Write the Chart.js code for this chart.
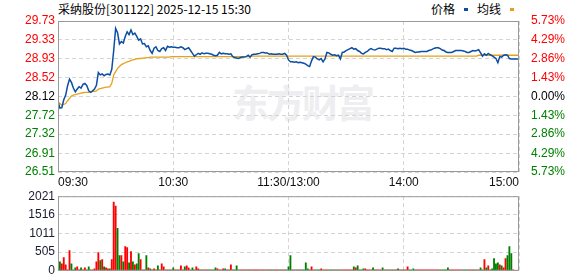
<!DOCTYPE html>
<html>
<head>
<meta charset="utf-8">
<script src="https://cdn.jsdelivr.net/npm/chart.js@4.4.1/dist/chart.umd.min.js"></script>
<style>
    body { margin: 0; background: #fff; }
    #wrap { position: relative; width: 578px; height: 276px; overflow: hidden; font-family: "Noto Sans CJK SC", sans-serif; }
    #title { position: absolute; left: 58px; top: 1px; font-size: 12px; line-height: 16px; color: #000; white-space: nowrap; }
    #legend { position: absolute; left: 431px; top: 1px; font-size: 12px; line-height: 16px; color: #000; white-space: nowrap; }
    #legend i { display: inline-block; width: 4px; height: 3px; margin: 0 9px 3px 9px; vertical-align: middle; }
    #mark { position: absolute; left: 232px; top: 73px; font-size: 38px; font-weight: bold; color: #eeeef1; letter-spacing: -3px; white-space: nowrap; z-index: 0; }
    canvas { position: absolute; left: 0; z-index: 1; }
    #priceChart { top: 0; }
    #volChart { top: 186px; }
</style>
</head>
<body>
<div id="wrap">
    <div id="mark">东方财富</div>
    <div id="title">采纳股份[301122] 2025-12-15 15:30</div>
    <div id="legend">价格<i style="background:#0b4ea2"></i>均线<i style="background:#e3a21c"></i></div>
    <canvas id="priceChart" width="578" height="190"></canvas>
    <canvas id="volChart" width="578" height="95"></canvas>
</div>
<script>
// Data (one value per minute, 09:30 -> 15:00)
const preClose = 28.12;

const timeTickVals = [0, 60, 120, 180, 240];
const timeLabels = ['09:30', '10:30', '11:30/13:00', '14:00', '15:00'];

const priceTicks = [26.51, 26.91, 27.32, 27.72, 28.12, 28.52, 28.93, 29.33, 29.73];
const pctTicks = ['5.73%', '4.29%', '2.86%', '1.43%', '0.00%', '1.43%', '2.86%', '4.29%', '5.73%'];
const volTicks = [0, 505, 1011, 1516, 2021];

const prices = [
    28.01, 27.87, 27.88, 28.05, 28.15, 28.35, 28.49, 28.42, 28.30, 28.22,
    28.28, 28.33, 28.30, 28.38, 28.40, 28.35, 28.24, 28.21, 28.24, 28.28,
    28.36, 28.63, 28.58, 28.60, 28.56, 28.59, 28.60, 28.58, 28.70, 29.10,
    29.57, 29.48, 29.24, 29.29, 29.26, 29.40, 29.50, 29.44, 29.54, 29.44,
    29.47, 29.40, 29.32, 29.35, 29.24, 29.25, 29.18, 29.20, 29.10, 29.04,
    29.15, 29.18, 29.10, 29.08, 29.14, 29.16, 29.10, 29.19, 29.17, 29.18,
    29.17, 29.17, 29.16, 29.16, 29.18, 29.16, 29.12, 29.14, 29.16, 29.10,
    29.04, 28.98, 29.01, 29.04, 29.02, 29.05, 29.03, 29.04, 29.04, 29.03,
    29.02, 29.00, 28.99, 29.00, 29.06, 29.03, 29.04, 29.03, 29.03, 29.02,
    29.03, 28.97, 28.95, 28.94, 28.93, 28.95, 28.96, 28.96, 28.97, 29.00,
    28.96, 29.01, 29.02, 29.02, 29.03, 29.04, 29.06, 29.06, 29.05, 29.05,
    29.02, 29.03, 29.02, 29.02, 29.02, 29.03, 29.02, 29.02, 29.04, 29.00,
    28.90, 28.86, 28.86, 28.85, 28.86, 28.84, 28.85, 28.84, 28.83, 28.81,
    28.78, 28.76, 28.88, 28.97, 28.96, 28.92, 28.90, 28.93, 28.86, 28.92,
    29.06, 29.05, 29.02, 29.00, 29.01, 28.99, 29.00, 28.92, 29.06, 29.07,
    29.10, 29.12, 29.14, 29.16, 29.13, 29.14, 29.10, 29.08, 29.04, 29.03,
    29.06, 29.08, 29.12, 29.14, 29.12, 29.11, 29.13, 29.15, 29.15, 29.14,
    29.14, 29.12, 29.13, 29.10, 29.08, 29.15, 29.15, 29.14, 29.15, 29.14,
    29.15, 29.13, 29.13, 29.11, 29.10, 29.08, 29.06, 29.07, 29.07, 29.08,
    29.08, 29.08, 29.08, 29.10, 29.11, 29.13, 29.15, 29.16, 29.16, 29.14,
    29.11, 29.10, 29.07, 29.06, 29.06, 29.06, 29.08, 29.10, 29.10, 29.10,
    29.10, 29.09, 29.08, 29.06, 29.06, 29.08, 29.10, 29.09, 29.10, 29.12,
    29.05, 28.98, 29.03, 29.00, 29.04, 29.01, 28.99, 28.96, 28.93, 28.84,
    28.97, 28.96, 29.00, 29.01, 29.00, 28.93, 28.92, 28.92, 28.92, 28.92,
    28.92
];

const avgPrices = [
    28.01, 27.97, 27.94, 27.95, 27.97, 28.03, 28.08, 28.13, 28.15, 28.16,
    28.17, 28.18, 28.19, 28.20, 28.21, 28.21, 28.21, 28.22, 28.23, 28.23,
    28.24, 28.28, 28.29, 28.30, 28.31, 28.32, 28.32, 28.33, 28.40, 28.58,
    28.65, 28.72, 28.76, 28.80, 28.82, 28.84, 28.86, 28.87, 28.89, 28.90,
    28.91, 28.92, 28.93, 28.93, 28.94, 28.94, 28.95, 28.95, 28.96, 28.96,
    28.96, 28.96, 28.96, 28.96, 28.96, 28.96, 28.96, 28.96, 28.96, 28.97,
    28.97, 28.97, 28.97, 28.97, 28.97, 28.97, 28.97, 28.97, 28.97, 28.97,
    28.97, 28.97, 28.97, 28.97, 28.97, 28.97, 28.97, 28.97, 28.97, 28.97,
    28.97, 28.97, 28.97, 28.97, 28.97, 28.97, 28.97, 28.97, 28.97, 28.97,
    28.97, 28.97, 28.97, 28.97, 28.97, 28.97, 28.97, 28.97, 28.97, 28.97,
    28.97, 28.98, 28.98, 28.98, 28.98, 28.98, 28.98, 28.98, 28.98, 28.98,
    28.98, 28.98, 28.98, 28.98, 28.98, 28.98, 28.98, 28.98, 28.98, 28.98,
    28.98, 28.98, 28.98, 28.98, 28.98, 28.98, 28.98, 28.98, 28.98, 28.98,
    28.98, 28.98, 28.98, 28.98, 28.98, 28.98, 28.98, 28.98, 28.98, 28.98,
    28.98, 28.98, 28.98, 28.98, 28.98, 28.98, 28.98, 28.98, 28.98, 28.98,
    28.98, 28.98, 28.98, 28.98, 28.98, 28.98, 28.98, 28.98, 28.98, 28.98,
    28.98, 28.98, 28.98, 28.98, 28.98, 28.98, 28.98, 28.98, 28.98, 28.98,
    28.98, 28.98, 28.98, 28.98, 28.98, 28.98, 28.98, 28.98, 28.98, 28.98,
    28.98, 28.98, 28.98, 28.98, 28.98, 28.98, 28.98, 28.98, 28.98, 28.98,
    28.98, 28.98, 28.98, 28.98, 28.98, 28.98, 28.98, 28.98, 28.98, 28.98,
    28.98, 28.98, 28.98, 28.98, 28.98, 28.98, 28.98, 28.98, 28.98, 28.98,
    28.98, 28.98, 28.98, 28.98, 28.98, 28.98, 28.98, 28.98, 28.98, 29.00,
    29.00, 29.00, 29.00, 29.00, 29.00, 29.00, 29.00, 29.00, 29.00, 29.00,
    29.00, 29.00, 29.00, 29.00, 29.00, 29.00, 29.00, 29.00, 29.00, 29.00,
    29.00
];

const volumes = [
    30, 246, 192, 356, 164, 27, 548, 192, 27, 82,
    110, 27, 82, 27, 82, 27, 110, 27, 27, 55,
    246, 493, 274, 301, 110, 82, 55, 55, 301, 1863,
    1754, 1151, 411, 411, 246, 658, 630, 219, 521, 246,
    164, 192, 466, 301, 27, 27, 411, 82, 55, 27,
    55, 27, 137, 27, 192, 110, 27, 27, 27, 27,
    82, 27, 27, 27, 137, 27, 110, 137, 82, 27,
    82, 27, 110, 55, 27, 27, 27, 27, 27, 27,
    27, 27, 82, 55, 27, 27, 55, 55, 27, 27,
    164, 27, 27, 137, 27, 27, 27, 27, 27, 27,
    27, 27, 27, 27, 27, 27, 27, 27, 27, 27,
    27, 27, 27, 27, 27, 27, 27, 27, 27, 27,
    110, 411, 27, 27, 27, 27, 27, 27, 27, 219,
    55, 27, 110, 27, 27, 27, 27, 55, 27, 27,
    27, 27, 27, 27, 27, 27, 27, 27, 27, 27,
    27, 27, 27, 27, 110, 82, 137, 27, 27, 55,
    55, 27, 27, 27, 82, 27, 27, 27, 27, 82,
    27, 27, 27, 27, 27, 27, 27, 55, 27, 27,
    27, 27, 110, 27, 27, 55, 27, 27, 27, 27,
    27, 27, 27, 27, 27, 27, 27, 27, 27, 27,
    27, 27, 27, 82, 27, 27, 27, 27, 27, 27,
    27, 27, 27, 27, 27, 27, 27, 27, 27, 27,
    82, 27, 301, 82, 137, 27, 55, 329, 192, 219,
    164, 137, 82, 329, 411, 658, 466, 27, 0, 0,
    466
];

const RED = '#ff0000';
const GREEN = '#008000';
const GRID = '#d4d4d4';
const TICK_FONT = { family: 'Arial, "Liberation Sans", sans-serif', size: 12 };

// box around the plot area
const framePlugin = {
    id: 'frame',
    afterDraw(chart) {
        const a = chart.chartArea;
        const ctx = chart.ctx;
        ctx.save();
        ctx.strokeStyle = '#999';
        ctx.lineWidth = 1;
        ctx.strokeRect(a.left + 0.5, a.top + 0.5, a.right - a.left - 1, a.bottom - a.top - 1);
        ctx.restore();
    }
};

function tickColor(ctx) {
    const v = priceTicks[ctx.index];
    if (v > preClose) return RED;
    if (v < preClose) return GREEN;
    return '#000';
}

function setTicks(vals) {
    return scale => { scale.ticks = vals.map(v => ({ value: v })); };
}

// Price chart
function initializePriceChart() {
    const ctx = document.getElementById('priceChart').getContext('2d');
    new Chart(ctx, {
        type: 'line',
        data: {
            datasets: [{
                label: '价格',
                data: prices.map((p, i) => ({ x: i, y: p })),
                borderColor: '#0b4ea2',
                borderWidth: 1.5,
                pointRadius: 0,
                tension: 0
            }, {
                label: '均线',
                data: avgPrices.map((p, i) => ({ x: i, y: p })),
                borderColor: '#e3a21c',
                borderWidth: 1.3,
                pointRadius: 0,
                tension: 0
            }]
        },
        options: {
            responsive: false,
            animation: false,
            layout: { padding: { top: 21, left: 0, right: 0, bottom: 0 } },
            plugins: { legend: { display: false }, tooltip: { enabled: false } },
            scales: {
                x: {
                    type: 'linear',
                    min: 0,
                    max: 240,
                    afterBuildTicks: setTicks(timeTickVals),
                    afterFit: scale => { scale.height = 18; },
                    grid: { color: GRID, drawTicks: false },
                    border: { display: false, dash: [4, 3] },
                    ticks: {
                        align: 'inner',
                        autoSkip: false,
                        maxRotation: 0,
                        padding: 3,
                        color: '#111',
                        font: TICK_FONT,
                        callback: (v, i) => timeLabels[i]
                    }
                },
                y: {
                    position: 'left',
                    min: 26.51,
                    max: 29.73,
                    afterBuildTicks: setTicks(priceTicks),
                    afterFit: scale => { scale.width = 58; },
                    grid: { color: GRID, drawTicks: false },
                    border: { display: false, dash: [4, 3] },
                    ticks: {
                        padding: 3,
                        color: tickColor,
                        font: TICK_FONT,
                        callback: (v, i) => priceTicks[i].toFixed(2)
                    }
                },
                pct: {
                    position: 'right',
                    min: 26.51,
                    max: 29.73,
                    afterBuildTicks: setTicks(priceTicks),
                    afterFit: scale => { scale.width = 59; },
                    grid: { display: false },
                    border: { display: false },
                    ticks: {
                        padding: 4,
                        color: tickColor,
                        font: TICK_FONT,
                        callback: (v, i) => pctTicks[pctTicks.length - 1 - i]
                    }
                }
            }
        },
        plugins: [framePlugin]
    });
}

// Volume chart
function initializeVolumeChart() {
    const ctx = document.getElementById('volChart').getContext('2d');
    const barColors = volumes.map((v, i) => (i === 0 ? prices[0] >= preClose : prices[i] >= prices[i - 1]) ? RED : GREEN);
    new Chart(ctx, {
        type: 'bar',
        data: {
            datasets: [{
                label: '成交量',
                data: volumes.map((v, i) => ({ x: i, y: v })),
                backgroundColor: barColors,
                barThickness: 1.2
            }]
        },
        options: {
            responsive: false,
            animation: false,
            layout: { padding: { top: 10, left: 0, right: 59, bottom: 0 } },
            plugins: { legend: { display: false }, tooltip: { enabled: false } },
            scales: {
                x: {
                    type: 'linear',
                    min: 0,
                    max: 240,
                    offset: false,
                    afterBuildTicks: setTicks(timeTickVals),
                    afterFit: scale => { scale.height = 6; },
                    grid: { color: GRID, drawTicks: false, offset: false },
                    border: { display: false, dash: [4, 3] },
                    ticks: { display: false }
                },
                y: {
                    min: 0,
                    max: 2021,
                    afterBuildTicks: setTicks(volTicks),
                    afterFit: scale => { scale.width = 58; },
                    grid: { color: GRID, drawTicks: false },
                    border: { display: false, dash: [4, 3] },
                    ticks: {
                        padding: 3,
                        color: '#1a1a33',
                        font: TICK_FONT,
                        callback: (v, i) => String(volTicks[i])
                    }
                }
            }
        },
        plugins: [framePlugin]
    });
}

document.addEventListener('DOMContentLoaded', () => {
    initializePriceChart();
    initializeVolumeChart();
});
</script>
</body>
</html>
